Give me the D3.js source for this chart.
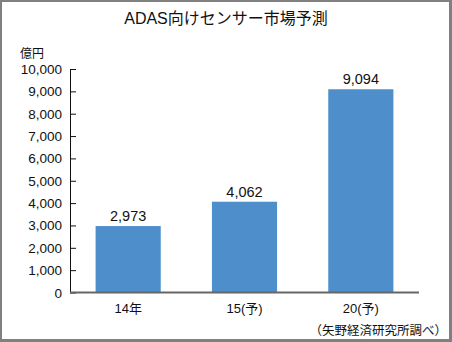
<!DOCTYPE html>
<html>
<head>
<meta charset="utf-8">
<style>
  body { margin: 0; background: #fff; }
  svg text { font-family: "Liberation Sans", Arial, "Noto Sans CJK JP", sans-serif; fill: #111; }
</style>
</head>
<body>
<svg id="svg" width="452" height="342"></svg>
<script src="https://d3js.org/d3.v7.min.js"></script>
<script>
// chart data
const categories = ['14年', '15(予)', '20(予)']
const values = [2973, 4062, 9094]
const yTicks = [0, 1000, 2000, 3000, 4000, 5000, 6000, 7000, 8000, 9000, 10000]
const title = 'ADAS向けセンサー市場予測'
const unit = '億円'
const source = '（矢野経済研究所調べ）'

const svg = d3.select('#svg')

// frame
svg.append('rect').attr('x', 1).attr('y', 1).attr('width', 449).attr('height', 339)
  .attr('fill', 'none').attr('stroke', '#808080').attr('stroke-width', 2)
svg.append('line').attr('x1', 450.5).attr('x2', 450.5).attr('y1', 0).attr('y2', 342)
  .attr('stroke', '#808080').attr('stroke-width', 3)
svg.append('line').attr('x1', 0).attr('x2', 452).attr('y1', 340.5).attr('y2', 340.5)
  .attr('stroke', '#808080').attr('stroke-width', 3)

const plotLeft = 70, plotRight = 419, plotTop = 69, plotBottom = 292.5

const x = d3.scaleBand().domain(categories).range([plotLeft, plotRight])
  .paddingInner(0.44).paddingOuter(0.22)
const y = d3.scaleLinear().domain([0, 10000]).range([plotBottom, plotTop])

// title
svg.append('text').attr('x', 226).attr('y', 24).attr('text-anchor', 'middle')
  .style('font-size', '16px').text(title)

// unit
svg.append('text').attr('x', 20).attr('y', 58).style('font-size', '12px').text(unit)

// y axis
const yAxis = d3.axisRight(y).tickValues(yTicks).tickSize(6).tickFormat('')
const ga = svg.append('g').attr('transform', `translate(${plotLeft},0)`).call(yAxis)
ga.select('.domain').remove()
ga.selectAll('line').attr('stroke', '#111')
ga.append('line').attr('x1', 0.5).attr('x2', 0.5).attr('y1', plotTop).attr('y2', plotBottom)
  .attr('stroke', '#111')

svg.append('g').selectAll('text').data(yTicks).join('text')
  .attr('x', 62).attr('y', d => y(d) + 5)
  .attr('text-anchor', 'end').style('font-size', '13.5px')
  .text(d => d3.format(',')(d))

// bars
svg.append('g').selectAll('rect').data(values).join('rect')
  .attr('x', (d, i) => x(categories[i]))
  .attr('y', d => y(d))
  .attr('width', x.bandwidth())
  .attr('height', d => y(0) - y(d))
  .attr('fill', '#4e8fcb')

// value labels
svg.append('g').selectAll('text').data(values).join('text')
  .attr('x', (d, i) => x(categories[i]) + x.bandwidth() / 2)
  .attr('y', d => y(d) - 5)
  .attr('text-anchor', 'middle').style('font-size', '14.5px')
  .text(d => d3.format(',')(d))

// baseline
svg.append('line').attr('x1', plotLeft).attr('x2', plotRight).attr('y1', plotBottom).attr('y2', plotBottom)
  .attr('stroke', '#666').attr('stroke-width', 2)

// x labels
svg.append('g').selectAll('text').data(categories).join('text')
  .attr('x', d => x(d) + x.bandwidth() / 2)
  .attr('y', 313)
  .attr('text-anchor', 'middle').style('font-size', '13px')
  .text(d => d)

// source
svg.append('text').attr('x', 447).attr('y', 335).attr('text-anchor', 'end')
  .style('font-size', '12.5px').text(source)
</script>
</body>
</html>
